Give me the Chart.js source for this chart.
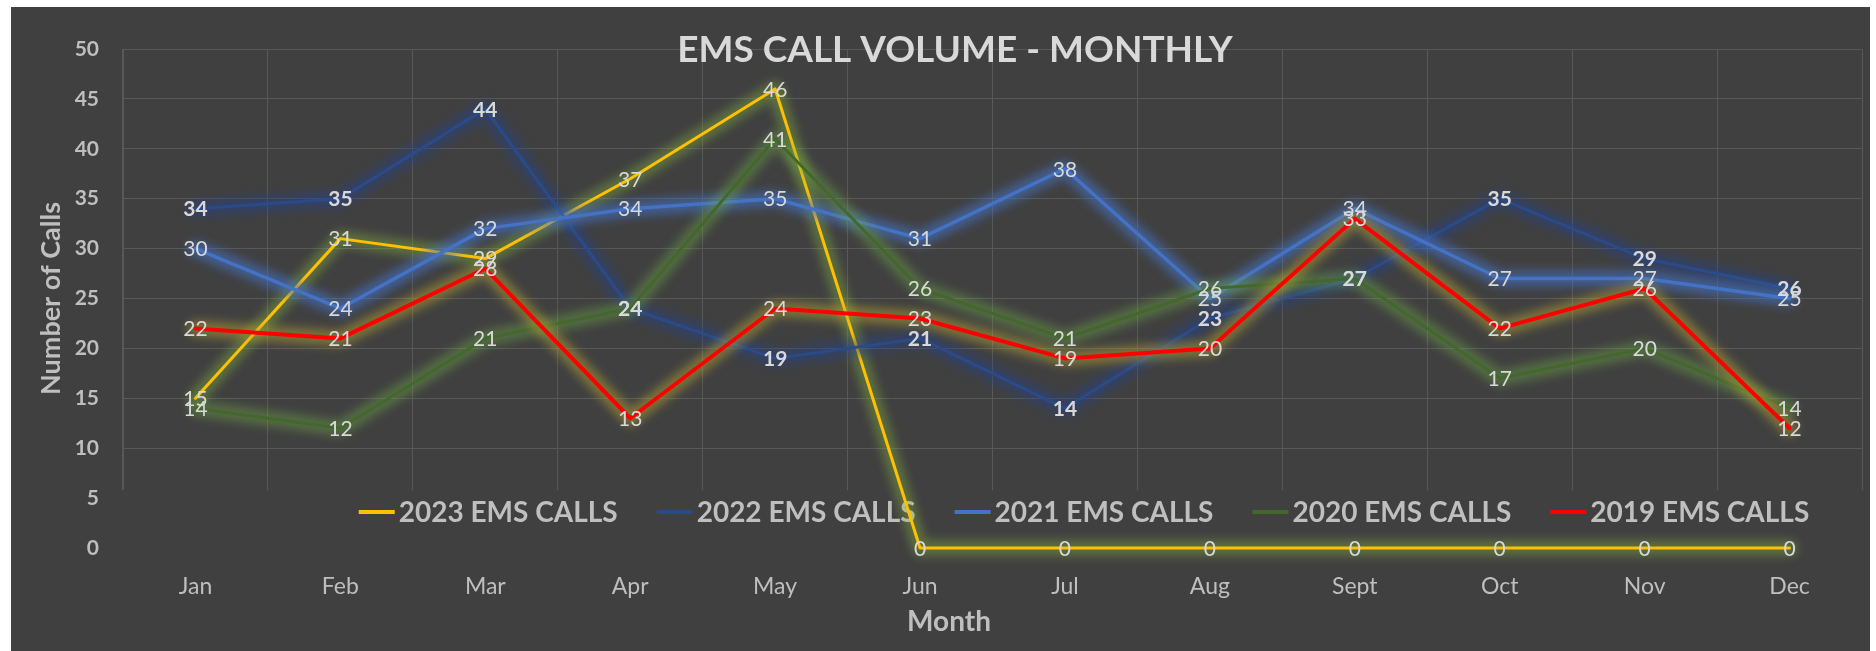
<!DOCTYPE html>
<html>
<head>
<meta charset="utf-8">
<title>EMS Call Volume - Monthly</title>
<script src="https://cdn.jsdelivr.net/npm/chart.js@4.4.1/dist/chart.umd.min.js"></script>
<style>
    html, body { margin: 0; padding: 0; background: #ffffff; }
    #quadro {
        position: absolute;
        left: 11px;
        top: 7px;
        width: 1859px;
        height: 644px;
        background: #404040;
    }
</style>
</head>
<body>
<div id="quadro"><canvas id="grafico-ems"></canvas></div>
<script>
// Dados
const meses = ['Jan', 'Feb', 'Mar', 'Apr', 'May', 'Jun', 'Jul', 'Aug', 'Sept', 'Oct', 'Nov', 'Dec'];
const chamadas2023 = [15, 31, 29, 37, 46, 0, 0, 0, 0, 0, 0, 0];
const chamadas2022 = [34, 35, 44, 24, 19, 21, 14, 23, 27, 35, 29, 26];
const chamadas2021 = [30, 24, 32, 34, 35, 31, 38, 25, 34, 27, 27, 25];
const chamadas2020 = [14, 12, 21, 24, 41, 26, 21, 26, 27, 17, 20, 14];
const chamadas2019 = [22, 21, 28, 13, 24, 23, 19, 20, 33, 22, 26, 12];
const ticksY = [0, 5, 10, 15, 20, 25, 30, 35, 40, 45, 50];

const FONTE = 'Lato, "Open Sans", sans-serif';
const FUNDO = '#404040';

// Brilho (glow) de cada série
const brilhos = ['rgba(140,190,60,0.38)', 'rgba(35,65,140,0.5)', 'rgba(68,114,196,0.6)', 'rgba(112,173,71,0.4)', 'rgba(190,170,50,0.48)'];

document.addEventListener('DOMContentLoaded', function() {
    const ctx = document.getElementById('grafico-ems').getContext('2d');

    // Glow desenhado por baixo de cada linha, seguindo os pontos calculados pelo Chart.js
    const pluginBrilho = {
        id: 'brilho',
        beforeDatasetDraw(chart, args) {
            const c = chart.ctx;
            const pts = args.meta.data;
            c.save();
            c.filter = 'blur(5px)';
            c.strokeStyle = brilhos[args.index];
            c.lineWidth = 16;
            c.lineJoin = 'round';
            c.lineCap = 'round';
            c.beginPath();
            pts.forEach((p, k) => k ? c.lineTo(p.x, p.y) : c.moveTo(p.x, p.y));
            c.stroke();
            c.restore();
        }
    };

    // Legenda dentro da área do gráfico + títulos
    const pluginLegenda = {
        id: 'legendaInterna',
        beforeDatasetsDraw(chart) {
            const c = chart.ctx;
            c.save();
            // caixa da legenda cobre as linhas de grade
            c.fillStyle = FUNDO;
            c.fillRect(104, 483, 1755, 73);

            c.font = 'bold 28px ' + FONTE;
            c.textBaseline = 'middle';
            c.textAlign = 'left';
            const datasets = chart.data.datasets;
            const larguras = datasets.map(ds => c.measureText(ds.label).width);
            const linha = 36, espaco = 4, intervalo = 39;
            let total = 0;
            larguras.forEach(w => total += linha + espaco + w);
            total += intervalo * (datasets.length - 1);
            let x = 1073 - total / 2;
            const y = 505;
            datasets.forEach((ds, i) => {
                c.strokeStyle = ds.borderColor;
                c.lineWidth = 4;
                c.beginPath();
                c.moveTo(x, y);
                c.lineTo(x + linha, y);
                c.stroke();
                c.fillStyle = '#bfbfbf';
                c.fillText(ds.label, x + linha + espaco, y + 1);
                x += linha + espaco + larguras[i] + intervalo;
            });

            // título
            c.textAlign = 'center';
            c.textBaseline = 'alphabetic';
            c.fillStyle = '#d9d9d9';
            c.font = 'bold 37px ' + FONTE;
            c.fillText('EMS CALL VOLUME - MONTHLY', 944, 55);

            // título do eixo X
            c.fillStyle = '#bfbfbf';
            c.font = 'bold 28px ' + FONTE;
            c.fillText('Month', 938, 624);
            c.restore();
        }
    };

    // Rótulos de dados centralizados nos pontos
    const pluginRotulos = {
        id: 'rotulos',
        afterDatasetsDraw(chart) {
            const c = chart.ctx;
            c.save();
            c.textAlign = 'center';
            c.textBaseline = 'middle';
            c.fillStyle = '#d9d9d9';
            chart.data.datasets.forEach((ds, i) => {
                const meta = chart.getDatasetMeta(i);
                c.font = (i === 1 ? 'bold ' : '') + '21px ' + FONTE;
                meta.data.forEach((pt, j) => {
                    c.fillText(String(ds.data[j]), pt.x, pt.y + 1);
                });
            });
            c.restore();
        }
    };

    new Chart(ctx, {
        type: 'line',
        data: {
            labels: meses,
            datasets: [
                { label: '2023 EMS CALLS', data: chamadas2023, borderColor: '#ffc000', borderWidth: 3, order: 4 },
                { label: '2022 EMS CALLS', data: chamadas2022, borderColor: '#2a4b88', borderWidth: 3, order: 3 },
                { label: '2021 EMS CALLS', data: chamadas2021, borderColor: '#4472c4', borderWidth: 3.5, order: 2 },
                { label: '2020 EMS CALLS', data: chamadas2020, borderColor: '#43682b', borderWidth: 3, order: 1 },
                { label: '2019 EMS CALLS', data: chamadas2019, borderColor: '#ff0000', borderWidth: 4, order: 0 }
            ]
        },
        options: {
            responsive: true,
            maintainAspectRatio: false,
            animation: false,
            layout: { padding: { top: 42, right: 8, left: 0, bottom: 0 } },
            elements: {
                point: { radius: 0, hoverRadius: 0 },
                line: { tension: 0, fill: false, borderCapStyle: 'round', borderJoinStyle: 'round' }
            },
            datasets: { line: { clip: false } },
            plugins: {
                legend: { display: false },
                title: { display: false },
                tooltip: { enabled: false }
            },
            scales: {
                x: {
                    offset: true,
                    grid: { offset: true, color: '#585858', lineWidth: 1, drawTicks: false },
                    border: { display: false },
                    ticks: {
                        color: '#bfbfbf',
                        font: { family: FONTE, size: 23 },
                        padding: 25,
                        maxRotation: 0
                    },
                    afterFit: s => { s.height = 103; }
                },
                y: {
                    min: 0,
                    max: 50,
                    grid: { color: '#585858', lineWidth: 1, drawTicks: false },
                    border: { display: true, color: '#585858' },
                    afterBuildTicks: s => { s.ticks = ticksY.map(v => ({ value: v })); },
                    ticks: {
                        color: '#bfbfbf',
                        font: { family: FONTE, size: 21, weight: 'bold' },
                        padding: 24
                    },
                    title: {
                        display: true,
                        text: 'Number of Calls',
                        color: '#bfbfbf',
                        font: { family: FONTE, size: 27, weight: 'bold' },
                        padding: { top: 24, bottom: 0 }
                    },
                    afterFit: s => { s.width = 112; }
                }
            }
        },
        plugins: [pluginBrilho, pluginLegenda, pluginRotulos]
    });
});
</script>
</body>
</html>
